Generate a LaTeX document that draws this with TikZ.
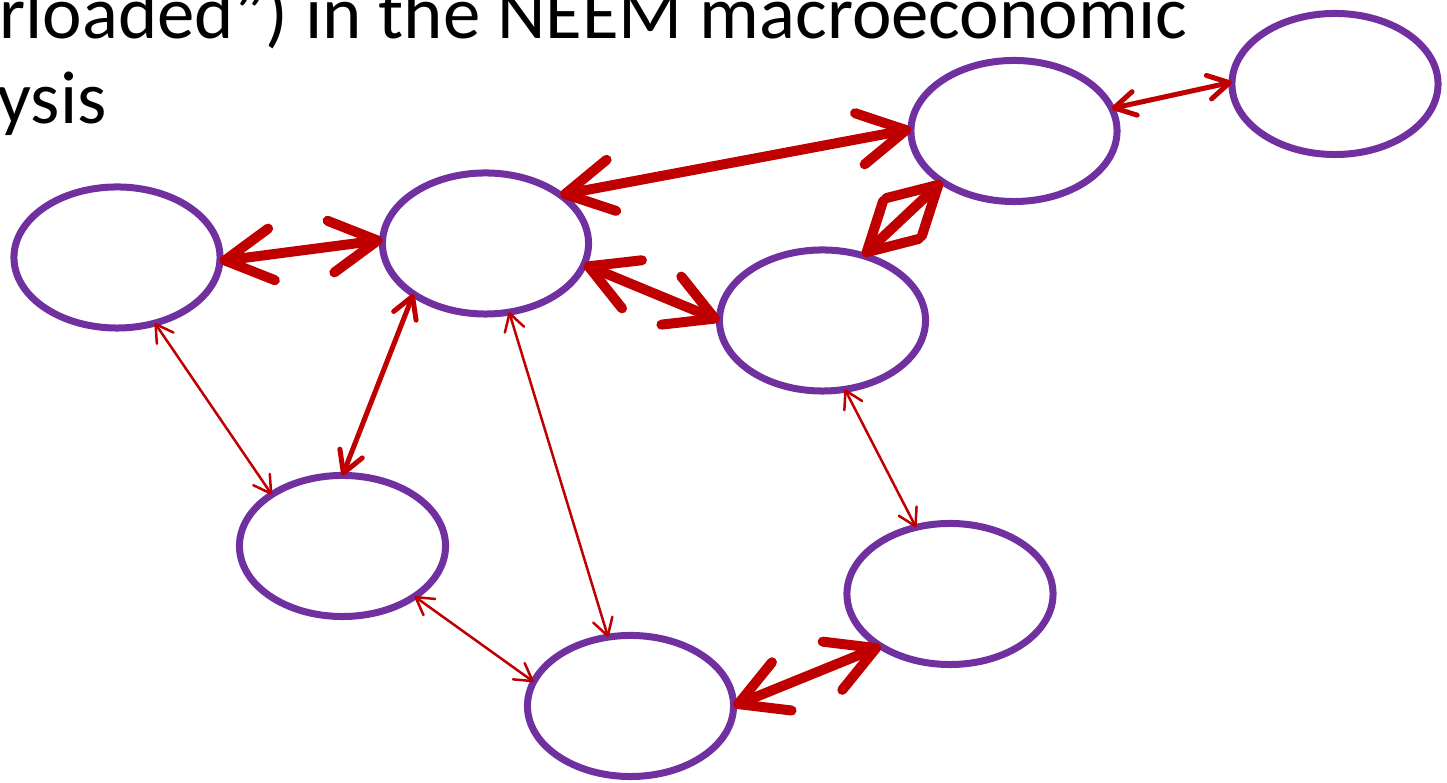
\documentclass[tikz,border=0pt]{standalone}
\usepackage{fontspec}
\setmainfont{Carlito}
\usetikzlibrary{shapes.geometric,arrows.meta}
\definecolor{purp}{HTML}{7030A0}
\definecolor{dred}{HTML}{C00000}
\begin{document}
\begin{tikzpicture}[x=0.01cm,y=-0.01cm,
  oval/.style={ellipse,draw=purp,line width=0.07cm,minimum width=2.06cm,minimum height=1.41cm,inner sep=0pt,outer sep=0pt},
  biglink/.style={draw=dred,line width=0.1cm,{Straight Barb[round,length=0.47cm,width=0.52cm]}-{Straight Barb[round,length=0.47cm,width=0.52cm]}},
  midlink/.style={draw=dred,line width=0.05cm,{Straight Barb[round,length=0.21cm,width=0.24cm]}-{Straight Barb[round,length=0.21cm,width=0.24cm]}},
  smalllink/.style={draw=dred,line width=0.025cm,{Straight Barb[round,length=0.17cm,width=0.2cm]}-{Straight Barb[round,length=0.17cm,width=0.2cm]}},
  caption/.style={anchor=base west,inner sep=0pt,font=\fontsize{21.3}{26}\selectfont}]
\useasboundingbox (0,0) rectangle (1447,783);
\node[caption] (t1) at (-1,39) {rloaded”) in the NEEM macroeconomic};
\node[caption] (t2) at (-3,124) {ysis};
\node[oval] (e1) at (117,257.5) {};
\node[oval] (e2) at (485.5,243.5) {};
\node[oval] (e3) at (1014,131) {};
\node[oval] (e4) at (1335,84) {};
\node[oval] (e5) at (822.5,320.5) {};
\node[oval] (e6) at (342.5,546) {};
\node[oval] (e7) at (630.5,706) {};
\node[oval] (e8) at (950,594) {};
% thick
\draw[biglink] (e1.-2.4) -- (e2.178.1);
\draw[biglink] (e2.33.6) -- (e3.179.5);
\draw[biglink] (e2.-12.6) -- (e5.180);
\draw[biglink] (e5.58.6) -- (e3.215.2);
\draw[biglink] (e7.0) -- (e8.217.9);
% medium
\draw[midlink] (e3.13.3) -- (e4.179.5);
\draw[midlink] (e2.215) -- (e6.90.4);
% thin
\draw[smalllink] (e1.-60.3) -- (e6.144.9);
\draw[smalllink] (e2.-71.8) -- (e7.108.5);
\draw[smalllink] (e6.-35.1) -- (e7.166.2);
\draw[smalllink] (e5.-72.5) -- (e8.117.8);
\end{tikzpicture}
\end{document}
